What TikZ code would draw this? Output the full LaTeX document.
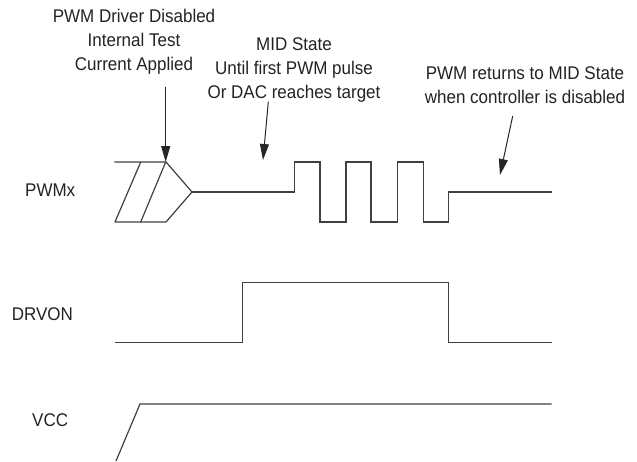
\documentclass[tikz,border=0pt]{standalone}
\usepackage{fontspec}
\setmainfont{Liberation Sans}
\usetikzlibrary{arrows.meta}
\definecolor{wave}{HTML}{404040}
\definecolor{txt}{HTML}{222222}
\newcommand{\tallt}[1]{\scalebox{1}[1.08]{#1}}
\begin{document}
\begin{tikzpicture}[x=1pt,y=-1pt,
  wavestyle/.style={draw=wave,line width=1.2pt,line join=miter},
  lbl/.style={inner sep=0pt,anchor=base,text=txt,font=\fontsize{17}{24}\selectfont},
  sig/.style={inner sep=0pt,anchor=base west,text=txt,font=\fontsize{17}{24}\selectfont},
  callout/.style={draw=black!85,line width=1pt,-{Triangle[length=16pt,width=9pt]}}]
\useasboundingbox (0,0) rectangle (637,461);
% annotations
\node[lbl] (a1) at (134,22) {\tallt{PWM Driver Disabled}};
\node[lbl] (a2) at (134,46) {\tallt{Internal Test}};
\node[lbl] (a3) at (134,70) {\tallt{Current Applied}};
\node[lbl] (b1) at (294,50) {\tallt{MID State}};
\node[lbl] (b2) at (294,74.5) {\tallt{Until first PWM pulse}};
\node[lbl] (b3) at (294,98.5) {\tallt{Or DAC reaches target}};
\node[lbl] (c1) at (525,79.5) {\tallt{PWM returns to MID State}};
\node[lbl] (c2) at (525,103) {\tallt{when controller is disabled}};
% signal names
\node[sig] (pwm) at (25,196.5) {\tallt{PWMx}};
\node[sig] (drv) at (11.7,320) {\tallt{DRVON}};
\node[sig] (vcc) at (32,426.5) {\tallt{VCC}};
% arrow coordinates
\coordinate (s1) at (165.7,86.7);
\coordinate (t1) at (165.7,162);
\coordinate (s2) at (268.3,101.7);
\coordinate (t2) at (263,160);
\coordinate (s3) at (512.7,116);
\coordinate (t3) at (500,175);
\draw[callout] (s1) -- (t1);
\draw[callout] (s2) -- (t2);
\draw[callout] (s3) -- (t3);
% PWMx
\draw[wavestyle] (114.3,162) -- (166,162) -- (192,192) -- (166,222) -- (115,222);
\draw[wavestyle] (140.7,162) -- (115,222);
\draw[wavestyle] (165.7,162) -- (140.7,222);
\draw[wavestyle] (192,192) -- (294.3,192) -- (294.3,162) -- (320,162) -- (320,222)
  -- (346,222) -- (346,162) -- (371,162) -- (371,222) -- (397.7,222) -- (397.7,162)
  -- (423.3,162) -- (423.3,222) -- (448.3,222) -- (448.3,192) -- (551.7,192);
% DRVON
\draw[wavestyle] (115,342.7) -- (242.7,342.7) -- (242.7,282.7) -- (448.3,282.7)
  -- (448.3,342.7) -- (551.7,342.7);
% VCC
\draw[wavestyle] (116,461) -- (140,404) -- (551.7,404);
\end{tikzpicture}
\end{document}
